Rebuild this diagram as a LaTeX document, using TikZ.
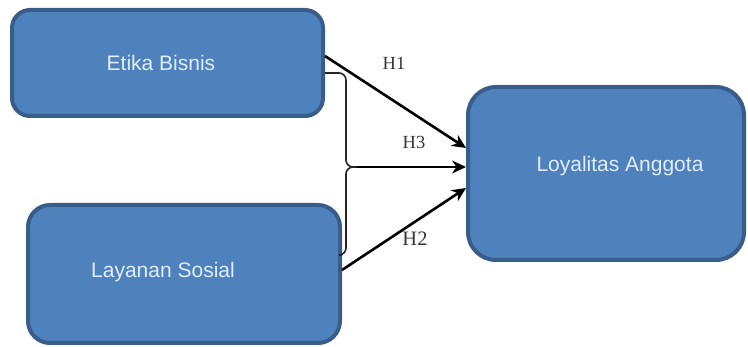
\documentclass[tikz,border=0pt]{standalone}
\usepackage{fontspec}
\setmainfont{Liberation Sans}
\newfontfamily\serifH{Liberation Serif}
\usetikzlibrary{arrows.meta,calc}
\definecolor{boxfill}{RGB}{79,129,189}
\definecolor{boxline}{RGB}{56,93,138}
\definecolor{boxtext}{RGB}{222,238,252}
\definecolor{labgray}{RGB}{55,55,55}
\tikzset{
  varbox/.style={draw=boxline, fill=boxfill, line width=4pt, rounded corners=#1, inner sep=0pt},
  vartext/.style={text=boxtext, font=\fontsize{21}{23}\selectfont, inner sep=0pt},
  hyp/.style={line width=2.6pt, -{Stealth[length=14pt,width=13pt]}},
  brace/.style={line width=1.6pt, draw=black!85, rounded corners=7pt},
  hlab/.style={text=labgray, font=\serifH\fontsize{18.5}{20}\selectfont, inner sep=0pt}
}
\begin{document}
\begin{tikzpicture}[x=1pt,y=-1pt]
\useasboundingbox (0,0) rectangle (748,347);
\node[varbox=18pt, minimum width=311pt, minimum height=106pt] (etika) at (167.5,63) {};
\node[varbox=22pt, minimum width=312pt, minimum height=138pt] (layanan) at (184,274) {};
\node[varbox=28pt, minimum width=276pt, minimum height=173pt] (loy) at (606,173.5) {};
\node[vartext] (etikaT) at (161,63) {Etika Bisnis};
\node[vartext] (layananT) at (163,272) {Layanan Sosial};
\node[vartext] (loyT) at (620,166) {Loyalitas Anggota};
\coordinate (j) at (357,167);
\draw[brace] ([yshift=-10pt]etika.east) -| (346,167) -- (j);
\draw[brace] ([yshift=19pt]layanan.east) -| (346,167) -- (j);
\draw[hyp] ([yshift=7pt]etika.east) -- ([yshift=25.5pt]loy.west);
\draw[hyp] (j) -- ([yshift=6.5pt]loy.west);
\draw[hyp] ([yshift=4pt]layanan.east) -- ([yshift=-14.5pt]loy.west);
\node[hlab] (h1) at (394,63) {H1};
\node[hlab] (h3) at (414,142) {H3};
\node[hlab, font=\serifH\fontsize{20.5}{22}\selectfont] (h2) at (415,239) {H2};
\end{tikzpicture}
\end{document}
